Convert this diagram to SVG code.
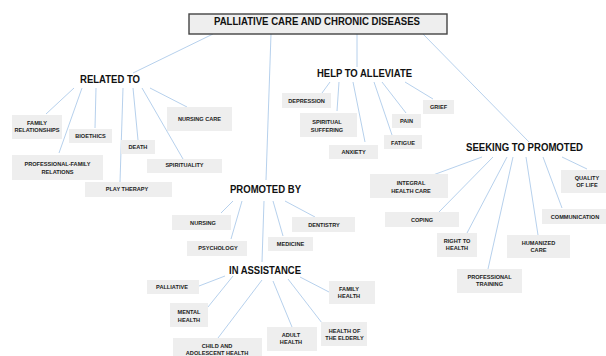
<svg xmlns="http://www.w3.org/2000/svg" width="606" height="356" viewBox="0 0 606 356">
<style>
.bg{fill:#ffffff}
.n{fill:#eeeeee}
.t{font-family:"Liberation Sans",Arial,sans-serif;font-weight:bold;font-size:5.6px;fill:#222;text-anchor:middle}
.h{font-family:"Liberation Sans",Arial,sans-serif;font-weight:bold;font-size:11px;fill:#111;text-anchor:middle}
.c line{stroke:#aecbea;stroke-width:0.9;fill:none}
</style>
<rect class="bg" x="0" y="0" width="606" height="356"/>
<g class="c" id="connectors">
<line x1="213" y1="34" x2="133" y2="73"/>
<line x1="271" y1="34" x2="266" y2="180"/>
<line x1="357" y1="34" x2="357" y2="67"/>
<line x1="423" y1="34" x2="529" y2="142"/>
<line x1="74" y1="88" x2="46" y2="114"/>
<line x1="82" y1="88" x2="59" y2="153"/>
<line x1="96" y1="88" x2="95" y2="128"/>
<line x1="123" y1="88" x2="120" y2="182"/>
<line x1="133" y1="88" x2="138" y2="140"/>
<line x1="142" y1="88" x2="183" y2="159"/>
<line x1="150" y1="88" x2="187" y2="107"/>
<line x1="330" y1="82" x2="322" y2="93"/>
<line x1="339" y1="82" x2="337" y2="111"/>
<line x1="353" y1="82" x2="365" y2="142"/>
<line x1="374" y1="82" x2="392" y2="135"/>
<line x1="382" y1="82" x2="406" y2="113"/>
<line x1="405" y1="82" x2="433" y2="99"/>
<line x1="482" y1="157" x2="433" y2="175"/>
<line x1="493" y1="157" x2="439" y2="212"/>
<line x1="507" y1="157" x2="467" y2="233"/>
<line x1="513" y1="157" x2="488" y2="269"/>
<line x1="526" y1="157" x2="538" y2="235"/>
<line x1="543" y1="157" x2="562" y2="208"/>
<line x1="562" y1="157" x2="587" y2="169"/>
<line x1="233" y1="201" x2="221" y2="213"/>
<line x1="242" y1="201" x2="231" y2="239"/>
<line x1="273" y1="201" x2="283" y2="236"/>
<line x1="285" y1="201" x2="315" y2="217"/>
<line x1="264" y1="201" x2="262" y2="262"/>
<line x1="225" y1="276" x2="199" y2="286"/>
<line x1="233" y1="276" x2="208" y2="307"/>
<line x1="262" y1="280" x2="218" y2="338"/>
<line x1="273" y1="281" x2="292" y2="327"/>
<line x1="288" y1="279" x2="322" y2="323"/>
<line x1="300" y1="277" x2="329" y2="292"/>
</g>
<g id="title">
<rect x="189" y="14" width="258" height="20" fill="#eeeeee" stroke="#444" stroke-width="1.4"/>
<text class="h" x="317" y="25" textLength="206" lengthAdjust="spacingAndGlyphs">PALLIATIVE CARE AND CHRONIC DISEASES</text>
</g>
<g id="related-to"><text class="h" x="110" y="83" textLength="60" lengthAdjust="spacingAndGlyphs">RELATED TO</text></g>
<g id="help-to-alleviate"><text class="h" x="364.5" y="77" textLength="95" lengthAdjust="spacingAndGlyphs">HELP TO ALLEVIATE</text></g>
<g id="seeking-to-promoted"><text class="h" x="524.5" y="151" textLength="117" lengthAdjust="spacingAndGlyphs">SEEKING TO PROMOTED</text></g>
<g id="promoted-by"><text class="h" x="265.5" y="193" textLength="71" lengthAdjust="spacingAndGlyphs">PROMOTED BY</text></g>
<g id="in-assistance"><text class="h" x="265" y="274" textLength="72" lengthAdjust="spacingAndGlyphs">IN ASSISTANCE</text></g>

<g id="family-relationships"><rect class="n" x="12" y="115" width="50" height="24"/><text class="t" x="37" y="124.7">FAMILY</text><text class="t" x="37" y="131.7">RELATIONSHIPS</text></g>
<g id="bioethics"><rect class="n" x="69" y="129" width="43" height="14"/><text class="t" x="90.5" y="138">BIOETHICS</text></g>
<g id="death"><rect class="n" x="121" y="140" width="34" height="14"/><text class="t" x="138" y="148.7">DEATH</text></g>
<g id="nursing-care"><rect class="n" x="167" y="107" width="65" height="24"/><text class="t" x="199.5" y="121">NURSING CARE</text></g>
<g id="professional-family"><rect class="n" x="12" y="155" width="91" height="25"/><text class="t" x="57.5" y="166.3">PROFESSIONAL-FAMILY</text><text class="t" x="57.5" y="173.7">RELATIONS</text></g>
<g id="spirituality"><rect class="n" x="147" y="159" width="75" height="14"/><text class="t" x="184.5" y="167">SPIRITUALITY</text></g>
<g id="play-therapy"><rect class="n" x="85" y="182" width="87" height="15"/><text class="t" x="127" y="191">PLAY THERAPY</text></g>

<g id="depression"><rect class="n" x="282" y="93" width="49" height="15"/><text class="t" x="306.5" y="102.7">DEPRESSION</text></g>
<g id="spiritual-suffering"><rect class="n" x="300" y="113" width="57" height="24"/><text class="t" x="327" y="124.3">SPIRITUAL</text><text class="t" x="327" y="131.7">SUFFERING</text></g>
<g id="anxiety"><rect class="n" x="329" y="145" width="49" height="14"/><text class="t" x="353.5" y="154.3">ANXIETY</text></g>
<g id="fatigue"><rect class="n" x="384" y="135" width="38" height="14"/><text class="t" x="403" y="144.7">FATIGUE</text></g>
<g id="pain"><rect class="n" x="392" y="114" width="29" height="14"/><text class="t" x="406.5" y="123">PAIN</text></g>
<g id="grief"><rect class="n" x="423" y="100" width="31" height="14"/><text class="t" x="438.5" y="108.7">GRIEF</text></g>

<g id="integral-health-care"><rect class="n" x="370" y="174" width="78" height="24"/><text class="t" x="411" y="185.3">INTEGRAL</text><text class="t" x="411" y="192.7">HEALTH CARE</text></g>
<g id="coping"><rect class="n" x="385" y="212" width="74" height="15"/><text class="t" x="422" y="221.5">COPING</text></g>
<g id="right-to-health"><rect class="n" x="437" y="233" width="40" height="24"/><text class="t" x="457" y="242.7">RIGHT TO</text><text class="t" x="457" y="250">HEALTH</text></g>
<g id="professional-training"><rect class="n" x="457" y="269" width="65" height="24"/><text class="t" x="489.5" y="278.7">PROFESSIONAL</text><text class="t" x="489.5" y="286">TRAINING</text></g>
<g id="humanized-care"><rect class="n" x="507" y="235" width="63" height="23"/><text class="t" x="538.5" y="245">HUMANIZED</text><text class="t" x="538.5" y="252">CARE</text></g>
<g id="communication"><rect class="n" x="542" y="209" width="64" height="15"/><text class="t" x="575" y="219">COMMUNICATION</text></g>
<g id="quality-of-life"><rect class="n" x="561" y="170" width="45" height="23"/><text class="t" x="587" y="179.7">QUALITY</text><text class="t" x="587" y="187">OF LIFE</text></g>

<g id="nursing"><rect class="n" x="172" y="215" width="59" height="15"/><text class="t" x="203" y="224.7">NURSING</text></g>
<g id="psychology"><rect class="n" x="187" y="241" width="60" height="15"/><text class="t" x="218" y="250.3">PSYCHOLOGY</text></g>
<g id="medicine"><rect class="n" x="268" y="237" width="45" height="14"/><text class="t" x="290.5" y="246">MEDICINE</text></g>
<g id="dentistry"><rect class="n" x="292" y="217" width="63" height="15"/><text class="t" x="324" y="226.7">DENTISTRY</text></g>

<g id="palliative"><rect class="n" x="147" y="280" width="52" height="14"/><text class="t" x="172" y="289.3">PALLIATIVE</text></g>
<g id="mental-health"><rect class="n" x="170" y="303" width="38" height="24"/><text class="t" x="189" y="314.3">MENTAL</text><text class="t" x="189" y="321.7">HEALTH</text></g>
<g id="child-adolescent-health"><rect class="n" x="173" y="338" width="89" height="18"/><text class="t" x="217" y="348">CHILD AND</text><text class="t" x="217" y="355.3">ADOLESCENT HEALTH</text></g>
<g id="adult-health"><rect class="n" x="267" y="327" width="50" height="24"/><text class="t" x="291" y="337">ADULT</text><text class="t" x="291" y="344.3">HEALTH</text></g>
<g id="health-elderly"><rect class="n" x="321" y="322" width="46" height="24"/><text class="t" x="344.5" y="332.7">HEALTH OF</text><text class="t" x="344.5" y="340.3">THE ELDERLY</text></g>
<g id="family-health"><rect class="n" x="329" y="281" width="46" height="23"/><text class="t" x="349" y="291">FAMILY</text><text class="t" x="349" y="298.3">HEALTH</text></g>
</svg>
